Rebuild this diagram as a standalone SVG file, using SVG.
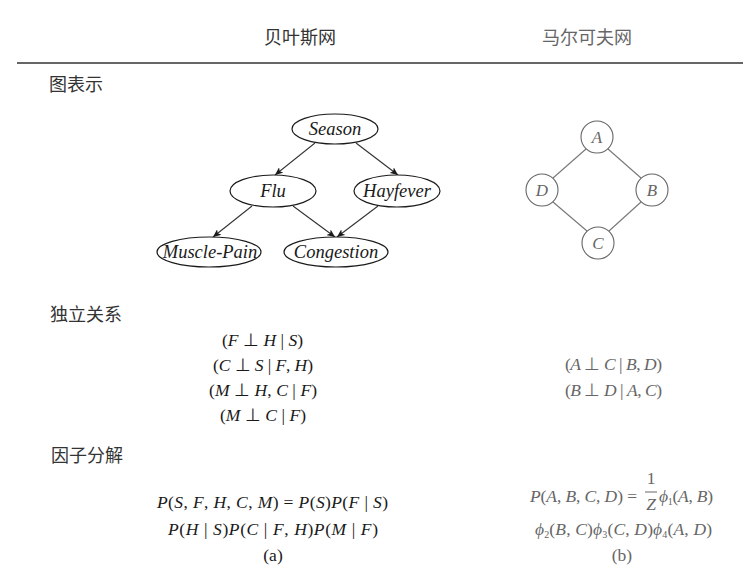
<svg xmlns="http://www.w3.org/2000/svg" width="743" height="574" viewBox="0 0 743 574">
<style>
.zh{font-family:"Noto Sans CJK SC","Noto Sans CJK JP",serif;font-size:18px;fill:#333}
.zhg{font-family:"Noto Sans CJK SC","Noto Sans CJK JP",serif;font-size:18px;fill:#666}
.m{font-family:"Liberation Serif","Times New Roman",serif;font-size:17.5px;fill:#1a1a1a}
.mg{font-family:"Liberation Serif","Times New Roman",serif;font-size:17.5px;fill:#666}
.i{font-style:italic}
.lbl{font-family:"Liberation Serif","Times New Roman",serif;font-style:italic;font-size:18.5px;fill:#1a1a1a;text-anchor:middle}
.lblg{font-family:"Liberation Serif","Times New Roman",serif;font-style:italic;font-size:17px;fill:#666;text-anchor:middle}
.bn{fill:#fff;stroke:#1a1a1a;stroke-width:1.2}
.mn{fill:#fff;stroke:#666;stroke-width:1.1}
.e{stroke:#333;stroke-width:1.1;fill:none;marker-end:url(#ah)}
.u{stroke:#777;stroke-width:1.1;fill:none}
.c{text-anchor:middle}
</style>
<defs>
<marker id="ah" markerWidth="9" markerHeight="7" refX="8" refY="3.5" orient="auto" markerUnits="userSpaceOnUse">
<path d="M0,0 L8,3.5 L0,7 L2,3.5 z" fill="#1a1a1a"/>
</marker>
</defs>
<rect width="743" height="574" fill="#fff"/>

<g id="header">
<text class="zh c" x="300" y="44">贝叶斯网</text>
<text class="zhg c" x="587" y="44">马尔可夫网</text>
<line x1="17" y1="63" x2="743" y2="63" stroke="#333" stroke-width="1.5"/>
</g>

<g id="section-labels">
<text class="zh" x="49" y="91">图表示</text>
<text class="zh" x="50" y="321">独立关系</text>
<text class="zh" x="51" y="462">因子分解</text>
</g>

<g id="connectors">
<line class="e" x1="315" y1="143" x2="275" y2="175"/>
<line class="e" x1="356" y1="143" x2="398" y2="175"/>
<line class="e" x1="252" y1="206" x2="213" y2="237"/>
<line class="e" x1="293" y1="206" x2="335" y2="237"/>
<line class="e" x1="378" y1="206" x2="337" y2="237"/>
<line class="u" x1="586" y1="149" x2="553" y2="178"/>
<line class="u" x1="608" y1="149" x2="641" y2="178"/>
<line class="u" x1="553" y1="202" x2="587" y2="231"/>
<line class="u" x1="641" y1="202" x2="609" y2="231"/>
</g>

<g id="season"><ellipse class="bn" cx="335" cy="129" rx="43" ry="15"/><text class="lbl" x="335" y="135">Season</text></g>
<g id="flu"><ellipse class="bn" cx="273" cy="191" rx="43" ry="16"/><text class="lbl" x="273" y="197">Flu</text></g>
<g id="hayfever"><ellipse class="bn" cx="397" cy="191" rx="43" ry="16"/><text class="lbl" x="397" y="197">Hayfever</text></g>
<g id="muscle-pain"><ellipse class="bn" cx="209" cy="252" rx="52" ry="15"/><text class="lbl" x="210" y="258">Muscle-Pain</text></g>
<g id="congestion"><ellipse class="bn" cx="336" cy="252" rx="52" ry="15"/><text class="lbl" x="336" y="258">Congestion</text></g>

<g id="node-A"><circle class="mn" cx="597" cy="137" r="16"/><text class="lblg" x="597" y="143">A</text></g>
<g id="node-D"><circle class="mn" cx="542" cy="190" r="16"/><text class="lblg" x="542" y="196">D</text></g>
<g id="node-B"><circle class="mn" cx="652" cy="190" r="16"/><text class="lblg" x="652" y="196">B</text></g>
<g id="node-C"><circle class="mn" cx="598" cy="243" r="16"/><text class="lblg" x="598" y="249">C</text></g>

<g id="independencies-bn">
<text class="m" x="222" y="346" textLength="81">(<tspan class="i">F</tspan> ⊥ <tspan class="i">H</tspan> | <tspan class="i">S</tspan>)</text>
<text class="m" x="213" y="371" textLength="100">(<tspan class="i">C</tspan> ⊥ <tspan class="i">S</tspan> | <tspan class="i">F</tspan>, <tspan class="i">H</tspan>)</text>
<text class="m" x="209" y="396" textLength="108">(<tspan class="i">M</tspan> ⊥ <tspan class="i">H</tspan>, <tspan class="i">C</tspan> | <tspan class="i">F</tspan>)</text>
<text class="m" x="220" y="421" textLength="86">(<tspan class="i">M</tspan> ⊥ <tspan class="i">C</tspan> | <tspan class="i">F</tspan>)</text>
</g>

<g id="independencies-mn">
<text class="mg" x="565" y="370" textLength="97">(<tspan class="i">A</tspan> ⊥ <tspan class="i">C</tspan> | <tspan class="i">B</tspan>, <tspan class="i">D</tspan>)</text>
<text class="mg" x="565" y="396" textLength="97">(<tspan class="i">B</tspan> ⊥ <tspan class="i">D</tspan> | <tspan class="i">A</tspan>, <tspan class="i">C</tspan>)</text>
</g>

<g id="factorization-bn">
<text class="m" x="157" y="508" textLength="231"><tspan class="i">P</tspan>(<tspan class="i">S</tspan>, <tspan class="i">F</tspan>, <tspan class="i">H</tspan>, <tspan class="i">C</tspan>, <tspan class="i">M</tspan>) = <tspan class="i">P</tspan>(<tspan class="i">S</tspan>)<tspan class="i">P</tspan>(<tspan class="i">F</tspan> | <tspan class="i">S</tspan>)</text>
<text class="m" x="168" y="535" textLength="210"><tspan class="i">P</tspan>(<tspan class="i">H</tspan> | <tspan class="i">S</tspan>)<tspan class="i">P</tspan>(<tspan class="i">C</tspan> | <tspan class="i">F</tspan>, <tspan class="i">H</tspan>)<tspan class="i">P</tspan>(<tspan class="i">M</tspan> | <tspan class="i">F</tspan>)</text>
<text class="m c" x="273" y="561">(a)</text>
</g>

<g id="factorization-mn">
<text class="mg" x="530" y="502" textLength="107"><tspan class="i">P</tspan>(<tspan class="i">A</tspan>, <tspan class="i">B</tspan>, <tspan class="i">C</tspan>, <tspan class="i">D</tspan>) =</text>
<text class="mg c" x="651" y="484">1</text>
<line x1="645" y1="492" x2="657" y2="492" stroke="#666" stroke-width="1"/>
<text class="mg c i" x="651" y="510">Z</text>
<text class="mg" x="659" y="502" textLength="54"><tspan class="i">ϕ</tspan><tspan font-size="10" dy="3">1</tspan><tspan dy="-3">(</tspan><tspan class="i">A</tspan>, <tspan class="i">B</tspan>)</text>
<text class="mg" x="535" y="535" textLength="177"><tspan class="i">ϕ</tspan><tspan font-size="10" dy="3">2</tspan><tspan dy="-3">(</tspan><tspan class="i">B</tspan>, <tspan class="i">C</tspan>)<tspan class="i">ϕ</tspan><tspan font-size="10" dy="3">3</tspan><tspan dy="-3">(</tspan><tspan class="i">C</tspan>, <tspan class="i">D</tspan>)<tspan class="i">ϕ</tspan><tspan font-size="10" dy="3">4</tspan><tspan dy="-3">(</tspan><tspan class="i">A</tspan>, <tspan class="i">D</tspan>)</text>
<text class="mg c" x="622" y="561">(b)</text>
</g>
</svg>
